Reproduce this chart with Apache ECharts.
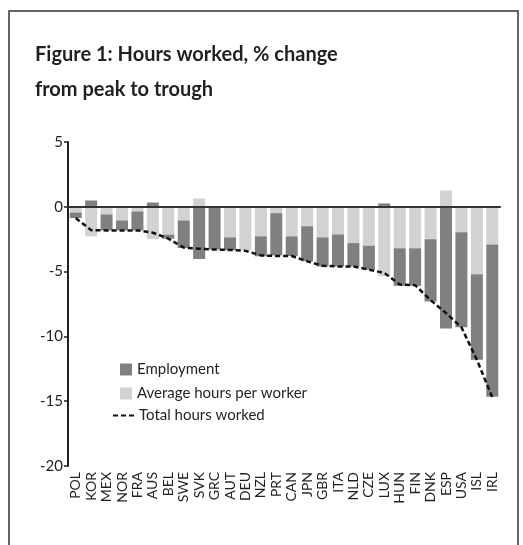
<!DOCTYPE html>
<html>
<head>
<meta charset="utf-8">
<script src="https://cdn.jsdelivr.net/npm/echarts@6/dist/echarts.min.js"></script>
<style>
  html, body { margin: 0; padding: 0; background: #fff; }
  #chart { width: 523px; height: 545px; }
</style>
</head>
<body>
<div id="chart"></div>
<script>
// countries, ordered by fall in total hours
const countries = ['POL', 'KOR', 'MEX', 'NOR', 'FRA', 'AUS', 'BEL', 'SWE', 'SVK', 'GRC',
  'AUT', 'DEU', 'NZL', 'PRT', 'CAN', 'JPN', 'GBR', 'ITA', 'NLD', 'CZE',
  'LUX', 'HUN', 'FIN', 'DNK', 'ESP', 'USA', 'ISL', 'IRL'];

// contribution of average hours per worker (light bars)
const avgHours = [-0.44, -2.28, -0.59, -1.05, -0.36, -2.49, -2.15, -1.05, 0.64, 0,
  -2.36, -3.36, -2.28, -0.49, -2.28, -1.5, -2.36, -2.13, -2.8, -3.0,
  -5.36, -3.2, -3.2, -2.5, 1.26, -1.97, -5.2, -2.9];

// contribution of employment (dark bars)
const employment = [-0.43, 0.49, -1.23, -0.77, -1.46, 0.33, -0.31, -2.13, -4.03, -3.3,
  -1.0, 0, -1.54, -3.26, -1.52, -2.7, -2.24, -2.47, -1.8, -1.85,
  0.26, -2.9, -2.9, -4.8, -9.4, -7.33, -6.6, -11.75];

// total hours worked (dashed line)
const totalHours = [-0.87, -1.8, -1.82, -1.82, -1.82, -2.0, -2.45, -3.15, -3.23, -3.3,
  -3.33, -3.4, -3.75, -3.8, -3.8, -4.2, -4.55, -4.6, -4.6, -4.85,
  -5.1, -6.0, -6.05, -7.2, -8.2, -9.3, -11.8, -14.7];

const font = 'Lato, "Open Sans", sans-serif';

const chart = echarts.init(document.getElementById('chart'));
chart.setOption({
  animation: false,
  textStyle: { fontFamily: font },
  title: {
    text: 'Figure 1: Hours worked, % change\nfrom peak to trough',
    left: 35,
    top: 37,
    padding: 0,
    textStyle: {
      fontFamily: font,
      fontSize: 20,
      fontWeight: 'bold',
      color: '#231f20',
      lineHeight: 35
    }
  },
  graphic: [{
    type: 'rect',
    shape: { x: 9, y: 11, width: 509, height: 560 },
    style: { fill: 'none', stroke: '#333', lineWidth: 1.5 },
    silent: true
  }],
  legend: [{
    data: ['Employment', 'Average hours per worker'],
    orient: 'vertical',
    left: 115,
    top: 357,
    icon: 'rect',
    itemWidth: 12,
    itemHeight: 12,
    itemGap: 9,
    textStyle: { fontFamily: font, fontSize: 15, color: '#231f20' }
  }, {
    data: ['Total hours worked'],
    left: 107,
    top: 403,
    itemWidth: 21,
    itemHeight: 12,
    itemStyle: { opacity: 0 },
    textStyle: { fontFamily: font, fontSize: 15, color: '#231f20' }
  }],
  grid: { left: 68, right: 23, top: 142, bottom: 79, containLabel: false },
  xAxis: {
    type: 'category',
    data: countries,
    axisLine: { lineStyle: { color: '#231f20', width: 2 } },
    axisTick: { show: false },
    axisLabel: {
      rotate: 90,
      interval: 0,
      margin: 6,
      fontSize: 14,
      color: '#231f20',
      fontFamily: font
    }
  },
  yAxis: {
    type: 'value',
    min: -20,
    max: 5,
    interval: 5,
    splitLine: { show: false },
    axisLine: { show: true, lineStyle: { color: '#231f20', width: 2 } },
    axisTick: { show: true, length: 4, lineStyle: { color: '#231f20', width: 1.5 } },
    axisLabel: { fontSize: 15, color: '#231f20', margin: 5, fontFamily: font }
  },
  series: [{
    name: 'Average hours per worker',
    type: 'bar',
    stack: 'hours',
    barWidth: 12,
    itemStyle: { color: '#d2d2d4' },
    data: avgHours
  }, {
    name: 'Employment',
    type: 'bar',
    stack: 'hours',
    barWidth: 12,
    itemStyle: { color: '#808083' },
    data: employment
  }, {
    name: 'Total hours worked',
    type: 'line',
    symbol: 'none',
    z: 5,
    lineStyle: { color: '#111', width: 2.5, type: [5, 3] },
    itemStyle: { color: 'rgba(0,0,0,0)' },
    data: totalHours,
    markLine: {
      silent: true,
      symbol: 'none',
      label: { show: false },
      lineStyle: { color: '#333', width: 2, type: 'solid' },
      data: [{ yAxis: 0 }]
    }
  }]
});
</script>
</body>
</html>
